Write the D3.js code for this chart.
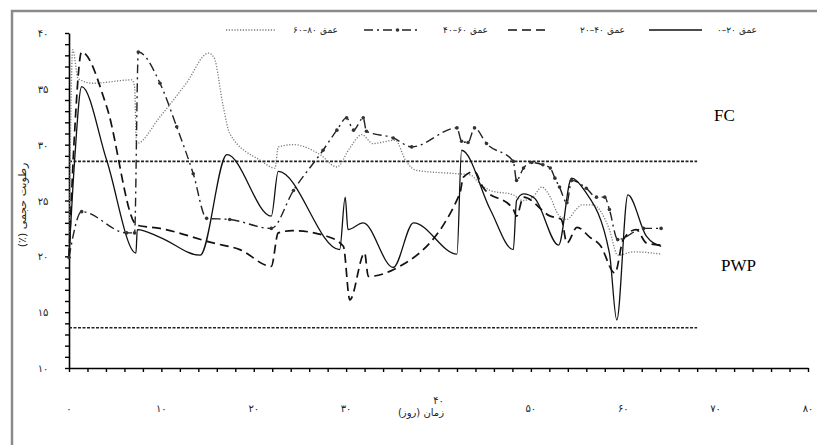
<!DOCTYPE html>
<html>
<head>
<meta charset="utf-8">
<script src="https://cdn.jsdelivr.net/npm/d3@7"></script>
<style>
  body { margin: 0; background: #fff; }
  svg { display: block; }
</style>
</head>
<body>
<div class="container"></div>
<script>
var w = 817;
var h = 445;

// depth series: [day, volumetric moisture %]
var depth0_20 = [
  [0, 19.9], [0.6, 28.5], [1.37, 35.2], [4.08, 28.6], [7.25, 20.3], [7.39, 22.4],
  [9.85, 21.7], [14.2, 20.1], [17.1, 29.1], [21.9, 23.6], [22.65, 27.6], [29.3, 20.6],
  [29.9, 25.3], [30.2, 22.4], [31.85, 23.0], [35.1, 19.0], [37.3, 23.0], [42.0, 20.2],
  [42.5, 29.5], [45.6, 24.2], [48.1, 20.6], [48.45, 25.0], [49.2, 25.6], [50.4, 25.2],
  [53.0, 21.0], [54.4, 27.0], [55.8, 25.9], [58.5, 20.3], [59.3, 14.3], [60.5, 25.5],
  [62.5, 21.8], [64.1, 20.9]
];
var depth20_40 = [
  [0, 19.9], [0.6, 31], [1.37, 38.3], [4.08, 33.4], [7.33, 22.8], [9.85, 22.5],
  [15.6, 21.2], [18.5, 20.6], [21.9, 19.1], [22.65, 22.1], [24.2, 22.3], [27.9, 21.8],
  [29.7, 20.9], [30.4, 16.1], [32.0, 20.3], [32.4, 18.2], [35.1, 18.8], [42.3, 25.6],
  [42.7, 27.1], [43.9, 27.6], [44.8, 26.2], [48.1, 24.2], [48.45, 23.6], [49.2, 25.3],
  [52.1, 23.6], [53.3, 23.3], [53.9, 21.2], [55.0, 22.6], [56.4, 21.7], [57.5, 21.0],
  [59.1, 18.5], [60.0, 21.5], [61.4, 22.4], [62.5, 21.2], [64.1, 21.0]
];
var depth40_60 = [
  [0, 19.9], [1.37, 24.0], [6.24, 22.1], [7.1, 22.1], [7.5, 38.3], [9.85, 35.5],
  [11.66, 31.6], [13.45, 27.4], [14.9, 23.4], [17.4, 23.3], [21.9, 22.5], [24.3, 25.9],
  [27.5, 29.5], [29.0, 31.3], [30.05, 32.4], [30.8, 31.3], [31.85, 32.4], [32.2, 31.2],
  [35.1, 30.6], [37.1, 29.8], [42.0, 31.5], [42.5, 30.3], [43.2, 30.2], [43.9, 31.5],
  [45.2, 30.1], [48.1, 28.5], [48.45, 26.8], [49.2, 27.9], [50.1, 28.4], [51.3, 28.2],
  [52.1, 27.9], [52.6, 27.0], [53.1, 26.2], [53.9, 24.8], [54.4, 26.8], [56.0, 26.1],
  [57.1, 25.3], [58.0, 25.3], [58.5, 24.2], [59.4, 21.5], [62.2, 22.5], [64.1, 22.5]
];
var depth60_80 = [
  [0, 19.9], [0.4, 38.5], [1.0, 35.9], [2.6, 35.5], [6.8, 35.8], [7.1, 35.2],
  [7.3, 30.1], [9.85, 32.5], [12.7, 35.5], [15.1, 38.2], [15.7, 37.8], [16.7, 33.4],
  [17.4, 31.0], [20.7, 28.6], [22.3, 27.9], [22.65, 29.8], [24.3, 30.0], [27.2, 29.1],
  [29.0, 28.0], [30.4, 29.7], [31.7, 30.9], [32.9, 30.1], [35.3, 30.4], [36.5, 28.5],
  [37.6, 27.7], [42.0, 27.4], [43.4, 27.3], [44.5, 26.5], [45.6, 25.9], [48.1, 25.5],
  [49.1, 25.0], [50.2, 25.3], [51.2, 26.2], [52.1, 25.3], [53.0, 23.7], [53.9, 23.3],
  [54.9, 24.2], [55.5, 24.6], [56.7, 24.6], [58.5, 22.4], [59.4, 20.1], [61.1, 20.4],
  [64.1, 20.2]
];

var depthWord = "عمق";
var depthRanges = ["۰–۲۰", "۲۰–۴۰", "۴۰–۶۰", "۶۰–۸۰"];
var fcValue = 28.5;
var pwpValue = 13.6;
var refLineEnd = 68;

var xTickLabels = [0, 10, 20, 30, 40, 50, 60, 70, 80];
var yTickLabels = [10, 15, 20, 25, 30, 35, 40];

function toFa(n) {
  return String(n).replace(/\d/g, function (c) { return "۰۱۲۳۴۵۶۷۸۹"[+c]; });
}

var svg = d3.select(".container").append("svg")
  .attr("width", w)
  .attr("height", h);

// outer frame
svg.append("rect")
  .attr("x", 12).attr("y", 11)
  .attr("width", 900).attr("height", 600)
  .attr("fill", "none")
  .attr("stroke", "#8a8a8a")
  .attr("stroke-width", 2.5);

var xScale = d3.scaleLinear().domain([0, 80]).range([69, 808]);
var yScale = d3.scaleLinear().domain([10, 40]).range([368, 33]);

// axes (minor ticks, labels drawn separately)
svg.append("g")
  .attr("transform", "translate(0," + yScale(10) + ")")
  .call(d3.axisBottom(xScale).ticks(40).tickSize(4).tickSizeOuter(0).tickFormat(""))
  .call(g => g.select(".domain").attr("stroke", "#000").attr("stroke-width", 1.6))
  .call(g => g.selectAll(".tick line").attr("stroke", "#000").attr("stroke-width", 1.4));

svg.append("g")
  .attr("transform", "translate(" + xScale(0) + ",0)")
  .call(d3.axisLeft(yScale).ticks(30).tickSize(4).tickSizeOuter(0).tickFormat(""))
  .call(g => g.select(".domain").attr("stroke", "#000").attr("stroke-width", 1.6))
  .call(g => g.selectAll(".tick line").attr("stroke", "#000").attr("stroke-width", 1.4));

svg.append("g")
  .selectAll("text")
  .data(xTickLabels)
  .enter()
  .append("text")
  .attr("x", d => xScale(d))
  .attr("y", d => d === 40 ? 404 : 412)
  .attr("text-anchor", "middle")
  .attr("font-family", "DejaVu Sans")
  .attr("font-size", 10)
  .attr("fill", "#222")
  .text(d => toFa(d));

svg.append("g")
  .selectAll("text")
  .data(yTickLabels)
  .enter()
  .append("text")
  .attr("x", 43)
  .attr("y", d => yScale(d) + 4)
  .attr("text-anchor", "middle")
  .attr("font-family", "DejaVu Sans")
  .attr("font-size", 10)
  .attr("fill", "#222")
  .text(d => toFa(d));

// axis titles
svg.append("text")
  .attr("x", 421)
  .attr("y", 416)
  .attr("text-anchor", "middle")
  .attr("direction", "rtl")
  .attr("font-family", "DejaVu Sans")
  .attr("font-size", 10)
  .attr("fill", "#222")
  .text("زمان (روز)");

svg.append("text")
  .attr("transform", "translate(26,205) rotate(-90)")
  .attr("text-anchor", "middle")
  .attr("direction", "rtl")
  .attr("font-family", "DejaVu Sans")
  .attr("font-size", 11)
  .attr("fill", "#222")
  .text("رطوبت حجمی (٪)");

// FC / PWP reference lines
[fcValue, pwpValue].forEach(function (v) {
  svg.append("line")
    .attr("x1", xScale(0)).attr("x2", xScale(refLineEnd))
    .attr("y1", yScale(v)).attr("y2", yScale(v))
    .attr("stroke", "#222")
    .attr("stroke-width", 1.6)
    .attr("stroke-dasharray", "3,1.5");
});

svg.append("text")
  .attr("x", 714).attr("y", 121)
  .attr("font-family", "Liberation Serif")
  .attr("font-size", 17)
  .attr("fill", "#000")
  .text("FC");

svg.append("text")
  .attr("x", 721).attr("y", 271)
  .attr("font-family", "Liberation Serif")
  .attr("font-size", 17)
  .attr("fill", "#000")
  .text("PWP");

var line = d3.line()
  .x(d => xScale(d[0]))
  .y(d => yScale(d[1]))
  .curve(d3.curveMonotoneX);

var styles = [
  { dash: null, width: 1.3, color: "#111" },
  { dash: "9,5", width: 1.7, color: "#111" },
  { dash: "9,4,2,4", width: 1.4, color: "#222" },
  { dash: "1.2,1.6", width: 1.3, color: "#7a7a7a" }
];
var allSeries = [depth0_20, depth20_40, depth40_60, depth60_80];

// draw dotted first so the darker lines sit on top
[3, 2, 1, 0].forEach(function (i) {
  svg.append("path")
    .datum(allSeries[i])
    .attr("d", line)
    .attr("fill", "none")
    .attr("stroke", styles[i].color)
    .attr("stroke-width", styles[i].width)
    .attr("stroke-dasharray", styles[i].dash);
});

svg.append("g")
  .selectAll("circle")
  .data(depth40_60)
  .enter()
  .append("circle")
  .attr("cx", d => xScale(d[0]))
  .attr("cy", d => yScale(d[1]))
  .attr("r", 1.8)
  .attr("fill", "#333");

// legend: sample line, then "range word" (word drawn separately to keep order)
var legendItems = [
  { i: 3, x1: 226, x2: 275, right: 338 },
  { i: 2, x1: 364, x2: 421, right: 488 },
  { i: 1, x1: 508, x2: 546, right: 625 },
  { i: 0, x1: 649, x2: 702, right: 757 }
];

var legend = svg.append("g");
legendItems.forEach(function (it) {
  var st = styles[it.i];
  legend.append("line")
    .attr("x1", it.x1).attr("x2", it.x2)
    .attr("y1", 30).attr("y2", 30)
    .attr("stroke", st.color)
    .attr("stroke-width", st.width)
    .attr("stroke-dasharray", st.dash);
  if (it.i === 2) {
    legend.append("circle")
      .attr("cx", (it.x1 + it.x2) / 2 + 5).attr("cy", 30)
      .attr("r", 1.8).attr("fill", "#333");
  }
  var word = legend.append("text")
    .attr("x", it.right).attr("y", 33)
    .attr("text-anchor", "end")
    .attr("font-family", "DejaVu Sans")
    .attr("font-size", 9)
    .attr("fill", "#222")
    .text(depthWord);
  var ww = word.node().getComputedTextLength();
  legend.append("text")
    .attr("x", it.right - ww - 3).attr("y", 33)
    .attr("text-anchor", "end")
    .attr("font-family", "DejaVu Sans")
    .attr("font-size", 9)
    .attr("fill", "#222")
    .text(depthRanges[it.i]);
});
</script>
</body>
</html>
